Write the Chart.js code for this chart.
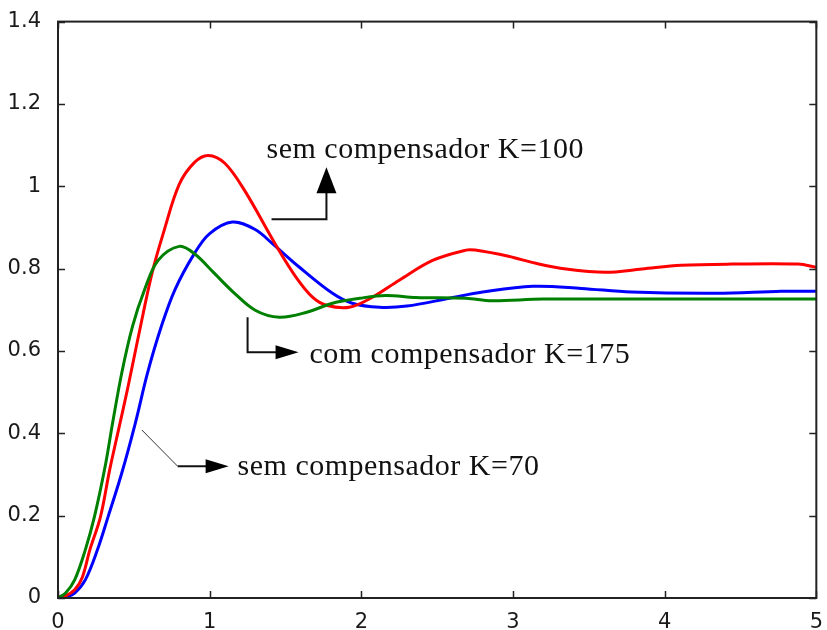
<!DOCTYPE html>
<html>
<head>
<meta charset="utf-8">
<script src="https://cdn.jsdelivr.net/npm/chart.js@4/dist/chart.umd.min.js"></script>
<style>
  body { margin: 0; background: #fff; }
  #wrap { width: 827px; height: 630px; }
</style>
</head>
<body>
<div id="wrap"><canvas id="myChart"></canvas></div>
<script>
// tick values
let xTicks = [0, 1, 2, 3, 4, 5];
let yTicks = [0, 0.2, 0.4, 0.6, 0.8, 1, 1.2, 1.4];

// sem compensador K=100 (red)
let redT = [0, 0.05, 0.11, 0.16, 0.21, 0.28, 0.34, 0.40, 0.46, 0.53, 0.62, 0.70, 0.80, 0.90, 0.99, 1.10, 1.23, 1.44, 1.57, 1.68, 1.77, 1.92, 2.07, 2.25, 2.47, 2.69, 2.75, 2.97, 3.15, 3.35, 3.61, 3.85, 4.11, 4.44, 4.88, 5.0];
let redV = [0, 0.005, 0.02, 0.05, 0.117, 0.197, 0.31, 0.41, 0.51, 0.635, 0.789, 0.893, 1.005, 1.058, 1.075, 1.056, 0.99, 0.855, 0.779, 0.73, 0.711, 0.706, 0.73, 0.772, 0.82, 0.845, 0.845, 0.83, 0.813, 0.799, 0.791, 0.799, 0.808, 0.811, 0.811, 0.803];

// sem compensador K=70 (blue)
let blueT = [0, 0.05, 0.11, 0.18, 0.26, 0.33, 0.42, 0.51, 0.59, 0.68, 0.77, 0.90, 1.00, 1.15, 1.30, 1.41, 1.59, 1.81, 1.94, 2.12, 2.30, 2.58, 2.80, 3.13, 3.45, 3.78, 4.34, 4.77, 5.0];
let blueV = [0, 0.002, 0.012, 0.044, 0.117, 0.197, 0.303, 0.425, 0.546, 0.658, 0.748, 0.837, 0.885, 0.913, 0.895, 0.862, 0.804, 0.74, 0.716, 0.706, 0.709, 0.728, 0.743, 0.757, 0.752, 0.743, 0.740, 0.745, 0.745];

// com compensador K=175 (green)
let greenT = [0, 0.05, 0.11, 0.18, 0.24, 0.31, 0.36, 0.42, 0.49, 0.57, 0.66, 0.80, 0.90, 1.03, 1.15, 1.30, 1.46, 1.64, 1.81, 1.99, 2.16, 2.36, 2.69, 2.86, 3.2, 5.0];
let greenV = [0, 0.012, 0.044, 0.117, 0.197, 0.318, 0.425, 0.546, 0.658, 0.748, 0.820, 0.854, 0.836, 0.789, 0.745, 0.699, 0.682, 0.694, 0.716, 0.728, 0.735, 0.730, 0.728, 0.722, 0.726, 0.726];

// annotation texts and anchors (data coords)
let noteLabels = ["sem compensador K=100", "com compensador K=175", "sem compensador K=70"];
let noteAt = [[1.375, 1.068], [1.658, 0.570], [1.184, 0.2985]];

function pairs(t, v) {
    let out = [];
    for (let i = 0; i < t.length; i++) {
        out.push({x: t[i], y: v[i]});
    }
    return out;
}

function series(t, v, color) {
    return {
        data: pairs(t, v),
        borderColor: color,
        borderWidth: 3,
        pointRadius: 0,
        fill: false,
        tension: 0.35
    };
}

// box, inward ticks on all sides, arrows and notes
const boxPlugin = {
    id: 'boxPlugin',
    afterDraw(chart) {
        let ctx = chart.ctx;
        let a = chart.chartArea;
        let xs = chart.scales.x, ys = chart.scales.y;
        ctx.save();
        ctx.strokeStyle = '#222';
        ctx.lineWidth = 2;
        ctx.strokeRect(a.left, a.top, a.right - a.left, a.bottom - a.top);
        ctx.lineWidth = 1.5;
        ctx.beginPath();
        xTicks.forEach(v => {
            let px = Math.round(xs.getPixelForValue(v)) + 0.5;
            ctx.moveTo(px, a.bottom); ctx.lineTo(px, a.bottom - 7);
            ctx.moveTo(px, a.top); ctx.lineTo(px, a.top + 7);
        });
        yTicks.forEach(v => {
            let py = Math.round(ys.getPixelForValue(v)) + 0.5;
            ctx.moveTo(a.left, py); ctx.lineTo(a.left + 7, py);
            ctx.moveTo(a.right, py); ctx.lineTo(a.right - 7, py);
        });
        ctx.stroke();

        let P = (x, y) => [xs.getPixelForValue(x), ys.getPixelForValue(y)];

        function head(tip, dir) {
            // dir: 'up' or 'right'
            ctx.beginPath();
            if (dir == 'up') {
                ctx.moveTo(tip[0], tip[1]);
                ctx.lineTo(tip[0] - 10, tip[1] + 26);
                ctx.lineTo(tip[0] + 10, tip[1] + 26);
            } else {
                ctx.moveTo(tip[0], tip[1]);
                ctx.lineTo(tip[0] - 23, tip[1] - 7);
                ctx.lineTo(tip[0] - 23, tip[1] + 7);
            }
            ctx.closePath();
            ctx.fill();
        }

        ctx.strokeStyle = '#111';
        ctx.fillStyle = '#000';

        // K=100 arrow
        let p1 = P(1.408, 0.920), p2 = P(1.770, 0.920), p3 = P(1.770, 1.046);
        ctx.lineWidth = 2;
        ctx.beginPath();
        ctx.moveTo(p1[0], p1[1]); ctx.lineTo(p2[0], p2[1]); ctx.lineTo(p3[0], p3[1] + 20);
        ctx.stroke();
        head(p3, 'up');

        // K=175 arrow
        let g1 = P(1.25, 0.682), g2 = P(1.25, 0.597), g3 = P(1.586, 0.597);
        ctx.beginPath();
        ctx.moveTo(g1[0], g1[1]); ctx.lineTo(g2[0], g2[1]); ctx.lineTo(g3[0] - 20, g3[1]);
        ctx.stroke();
        head(g3, 'right');

        // K=70 arrow
        let b1 = P(0.553, 0.408), b2 = P(0.789, 0.320), b3 = P(1.125, 0.320);
        ctx.lineWidth = 1;
        ctx.strokeStyle = '#333';
        ctx.beginPath();
        ctx.moveTo(b1[0], b1[1]); ctx.lineTo(b2[0], b2[1]);
        ctx.stroke();
        ctx.lineWidth = 2;
        ctx.strokeStyle = '#111';
        ctx.beginPath();
        ctx.moveTo(b2[0], b2[1]); ctx.lineTo(b3[0] - 20, b3[1]);
        ctx.stroke();
        head(b3, 'right');

        ctx.font = '30px "Liberation Serif", "DejaVu Serif", serif';
        ctx.letterSpacing = '0.5px';
        ctx.fillStyle = '#111';
        ctx.textBaseline = 'alphabetic';
        ctx.textAlign = 'left';
        for (let i = 0; i < noteLabels.length; i++) {
            let p = P(noteAt[i][0], noteAt[i][1]);
            ctx.fillText(noteLabels[i], p[0], p[1]);
        }
        ctx.restore();
    }
};

new Chart("myChart", {
    type: "line",
    data: {
        datasets: [
            series(greenT, greenV, '#008000'),
            series(redT, redV, '#ff0000'),
            series(blueT, blueV, '#0000ff')
        ]
    },
    options: {
        responsive: true,
        maintainAspectRatio: false,
        animation: false,
        layout: { padding: { left: 0, right: 9, top: 21, bottom: 0 } },
        plugins: { legend: { display: false }, tooltip: { enabled: false } },
        scales: {
            x: {
                type: 'linear',
                min: 0, max: 5,
                afterFit: s => { s.height = 32; },
                afterBuildTicks: s => { s.ticks = xTicks.map(v => ({value: v})); },
                grid: { display: false },
                border: { display: false },
                ticks: {
                    color: '#1a1a1a',
                    font: { family: '"DejaVu Sans", Arial, sans-serif', size: 21 },
                    padding: 4,
                    maxRotation: 0,
                    callback: v => String(v)
                }
            },
            y: {
                type: 'linear',
                min: 0, max: 1.4,
                afterFit: s => { s.width = 58; },
                afterBuildTicks: s => { s.ticks = yTicks.map(v => ({value: v})); },
                grid: { display: false },
                border: { display: false },
                ticks: {
                    color: '#1a1a1a',
                    font: { family: '"DejaVu Sans", Arial, sans-serif', size: 21 },
                    padding: 9,
                    callback: v => String(Math.round(v * 10) / 10)
                }
            }
        }
    },
    plugins: [boxPlugin]
});
</script>
</body>
</html>
